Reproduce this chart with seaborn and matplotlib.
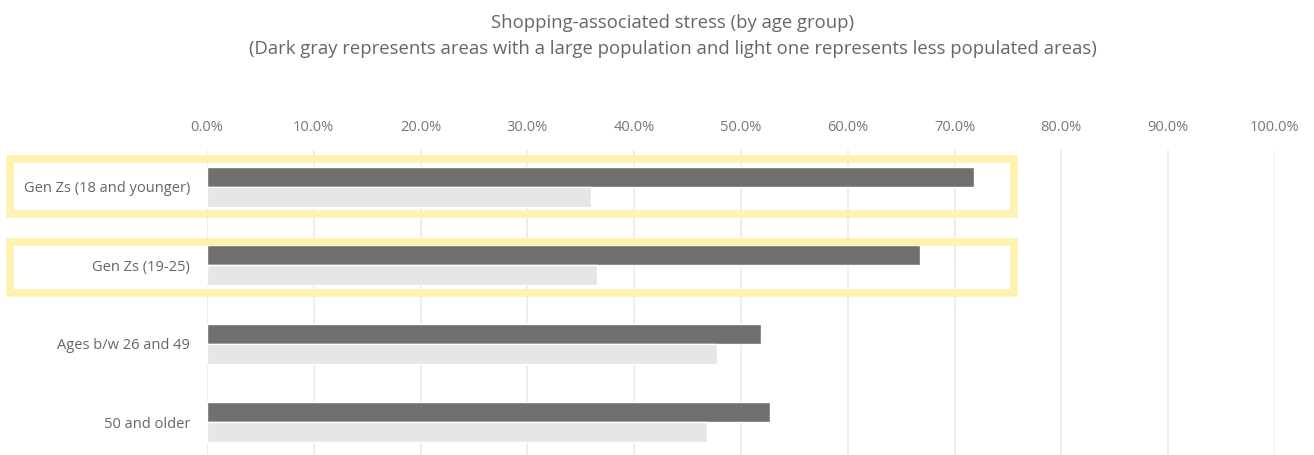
import numpy as np
import pandas as pd
import seaborn as sns
import matplotlib.pyplot as plt
from matplotlib.patches import Rectangle
from matplotlib.ticker import PercentFormatter

# Data
age_groups = ['Gen Zs (18 and younger)', 'Gen Zs (19-25)', 'Ages b/w 26 and 49', '50 and older']
large_pop = [0.718, 0.668, 0.519, 0.527]   # dark gray
small_pop = [0.360, 0.365, 0.478, 0.468]   # light gray
series_names = ['Large population', 'Less populated']
x_ticks = np.arange(0, 1.01, 0.1)

df = pd.DataFrame({
    'Age group': age_groups * 2,
    'Stress': large_pop + small_pop,
    'Area': [series_names[0]] * 4 + [series_names[1]] * 4,
})

sns.set_style("white")
plt.rcParams['font.family'] = ['Open Sans', 'DejaVu Sans']

fig = plt.figure(figsize=(13.14, 4.55), dpi=100)
ax = fig.add_axes([0.1575, 0.0, 0.8128, 0.670])

sns.barplot(data=df, y='Age group', x='Stress', hue='Area', orient='h',
            palette=['#707070', '#E6E6E6'], width=0.51, dodge=True,
            saturation=1, ax=ax, legend=False, zorder=2)

ax.set_xlim(0, 1)
ax.set_ylim(3.42, -0.47)
ax.set_xticks(x_ticks)
ax.xaxis.set_major_formatter(PercentFormatter(1.0, decimals=1))
ax.xaxis.tick_top()
ax.tick_params(axis='x', length=0, pad=11, labelsize=10.5, labelcolor='#777777')
ax.tick_params(axis='y', length=0, pad=12, labelsize=10.5, labelcolor='#666666')
ax.grid(axis='x', color='#EBEBEB', linewidth=1.2, zorder=0)
ax.set_axisbelow(True)
ax.set_xlabel('')
ax.set_ylabel('')
sns.despine(ax=ax, left=True, bottom=True, top=True, right=True)

# Highlight boxes around the Gen Z rows (pixel-based, figure coords)
W, H = 1314, 455
for (x0, x1, y0, y1) in [(9.5, 1014, 158.5, 213.5), (9.5, 1014, 241.5, 293)]:
    fig.add_artist(Rectangle((x0 / W, 1 - y1 / H), (x1 - x0) / W, (y1 - y0) / H,
                             transform=fig.transFigure, fill=False,
                             edgecolor='#FFF2AE', linewidth=5.5, zorder=5))

fig.text(0.512, 0.949, 'Shopping-associated stress (by age group)',
         ha='center', va='center', fontsize=13.3, color='#666666')
fig.text(0.512, 0.892, '(Dark gray represents areas with a large population and light one represents less populated areas)',
         ha='center', va='center', fontsize=13.3, color='#666666')

fig.savefig('out.png', dpi=100)
